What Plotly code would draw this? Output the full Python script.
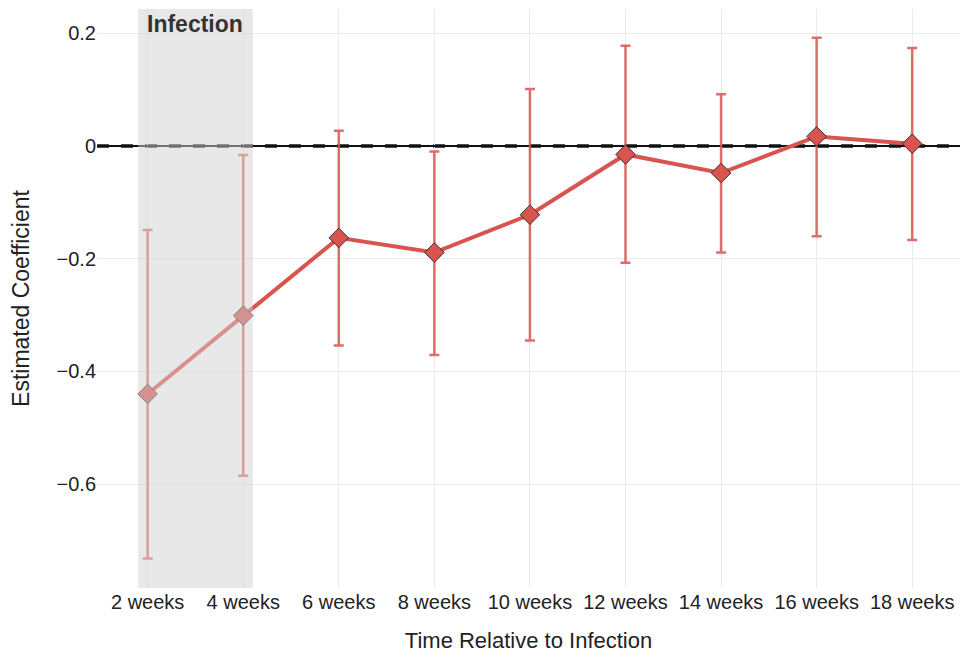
import plotly.graph_objects as go

# Event-study estimates by weeks relative to infection
weeks = ["2 weeks", "4 weeks", "6 weeks", "8 weeks", "10 weeks",
         "12 weeks", "14 weeks", "16 weeks", "18 weeks"]
estimate = [-0.440, -0.301, -0.163, -0.189, -0.122, -0.015, -0.048, 0.017, 0.004]
ci_low = [-0.732, -0.585, -0.354, -0.371, -0.345, -0.207, -0.189, -0.160, -0.167]
ci_high = [-0.149, -0.016, 0.027, -0.010, 0.101, 0.178, 0.092, 0.192, 0.174]
y_ticks = [-0.6, -0.4, -0.2, 0, 0.2]
y_tick_text = ["\u22120.6", "\u22120.4", "\u22120.2", "0", "0.2"]

RED = "#d9534f"
FONT = "Liberation Sans, Arial, sans-serif"

err_plus = [h - e for h, e in zip(ci_high, estimate)]
err_minus = [e - l for e, l in zip(estimate, ci_low)]
x_idx = list(range(len(weeks)))

fig = go.Figure()
fig.add_trace(go.Scatter(
    x=x_idx, y=estimate,
    mode="lines+markers",
    line=dict(color=RED, width=4),
    marker=dict(symbol="diamond", size=15, color=RED,
                line=dict(color="#333333", width=1)),
    error_y=dict(type="data", symmetric=False,
                 array=err_plus, arrayminus=err_minus,
                 color="rgba(217,83,79,0.85)", thickness=2.5, width=5),
    showlegend=False,
))

# Heavy dashed reference line at zero (the solid part is the axis zeroline)
fig.add_shape(type="line", xref="paper", x0=0, x1=1, yref="y", y0=0, y1=0,
              line=dict(color="#4d4d4d", width=4, dash="dash"),
              layer="between")

# Infection window shading
fig.add_shape(type="rect", xref="x", x0=-0.1, x1=1.1,
              yref="paper", y0=0, y1=1,
              fillcolor="#d1d1d1", opacity=0.5, line=dict(width=0),
              layer="above")
fig.add_annotation(x=0.5, xref="x", y=1, yref="paper", yanchor="top",
                   text="<b>Infection</b>", showarrow=False,
                   font=dict(family=FONT, size=23, color="#333333"))

fig.update_layout(
    width=960, height=656,
    margin=dict(l=97, r=0, t=9, b=68),
    paper_bgcolor="white", plot_bgcolor="white",
    font=dict(family=FONT, color="#222222"),
)
fig.update_xaxes(
    range=[-0.53, 8.5],
    tickmode="array", tickvals=x_idx, ticktext=weeks,
    tickfont=dict(size=20, color="#222222"),
    showgrid=True, gridcolor="#ebebeb", gridwidth=1,
    zeroline=False, showline=False, ticks="",
    title=dict(text="Time Relative to Infection",
               font=dict(size=22, color="#222222"), standoff=20),
)
fig.update_yaxes(
    range=[-0.7844, 0.2431],
    tickmode="array", tickvals=y_ticks, ticktext=y_tick_text,
    tickfont=dict(size=20, color="#222222"),
    showgrid=True, gridcolor="#ebebeb", gridwidth=1,
    zeroline=True, zerolinecolor="#111111", zerolinewidth=1.5,
    showline=False, ticks="",
    title=dict(text="Estimated Coefficient",
               font=dict(size=23, color="#222222"), standoff=20),
)

fig.write_html("out.html")
